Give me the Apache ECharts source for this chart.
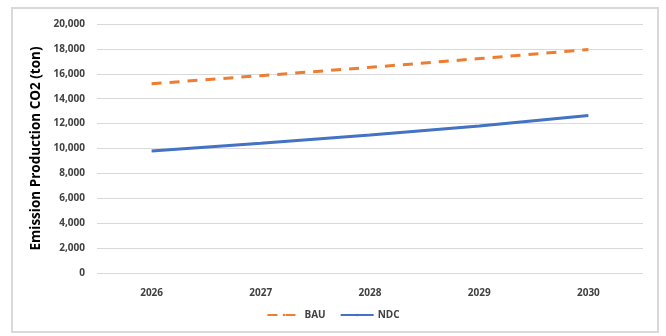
<!DOCTYPE html>
<html><head><meta charset="utf-8">
<script src="https://cdn.jsdelivr.net/npm/echarts@6/dist/echarts.min.js"></script>
<style>html,body{margin:0;padding:0;background:#fff}#c{width:666px;height:336px}</style>
</head><body><div id="c"></div>
<script>
const categories = ['2026','2027','2028','2029','2030'];
const bau = [15200, 15850, 16520, 17220, 17950];
const ndc = [9800, 10420, 11080, 11800, 12650];
const yTicks = {min:0, max:20000, interval:2000};

const chart = echarts.init(document.getElementById('c'));
const font = 'Open Sans, Liberation Sans, sans-serif';
chart.setOption({
  animation:false,
  backgroundColor:'#fff',
  graphic:[{type:'rect', shape:{x:12,y:8,width:646,height:324}, style:{fill:'none', stroke:'#d9d9d9', lineWidth:2}}],
  grid:{left:97, right:23, top:24, bottom:63},
  legend:{bottom:11, left:'center', itemWidth:33, itemHeight:3, itemGap:14,
    textStyle:{fontFamily:font, fontWeight:'bold', fontSize:10, color:'#404040', padding:[0,0,0,-1]},
    data:[{name:'BAU'},{name:'NDC'}]},
  xAxis:{type:'category', data:categories, boundaryGap:true,
    axisLine:{show:false}, axisTick:{show:false},
    axisLabel:{fontFamily:font, fontWeight:'bold', fontSize:10, color:'#404040', margin:15}},
  yAxis:{type:'value', min:yTicks.min, max:yTicks.max, interval:yTicks.interval,
    name:'Emission Production CO2 (ton)', nameLocation:'middle', nameGap:52,
    nameTextStyle:{fontFamily:font, fontWeight:'bold', fontSize:13.5, color:'#000'},
    axisLabel:{fontFamily:font, fontWeight:'bold', fontSize:10, color:'#404040', margin:12,
      formatter:v=>v.toLocaleString('en-US')},
    splitLine:{lineStyle:{color:'#d9d9d9', width:1}}},
  series:[
    {name:'BAU', type:'line', data:bau, symbol:'none', smooth:false,
      lineStyle:{color:'#ED7D31', width:3, type:[10,8]}, itemStyle:{color:'#ED7D31'}},
    {name:'NDC', type:'line', data:ndc, symbol:'none', smooth:false,
      lineStyle:{color:'#4472C4', width:3}, itemStyle:{color:'#4472C4'}}
  ]
});
</script></body></html>
